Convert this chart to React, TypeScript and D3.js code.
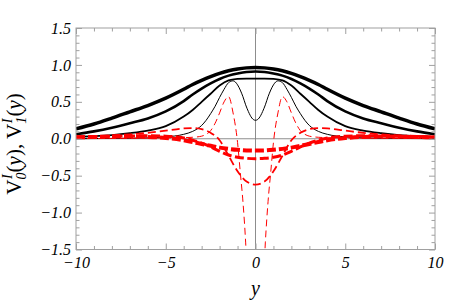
import * as d3 from "d3";
import { useEffect, useRef } from "react";

const width = 463;
const height = 301;
const margin = { top: 28, right: 28, bottom: 51.5, left: 76 };
const innerWidth = width - margin.left - margin.right;
const innerHeight = height - margin.top - margin.bottom;

// y positions for the broad curves
const yGrid = [-10, -9, -8, -7, -6, -5, -4, -3.5, -3, -2.5, -2, -1.5, -1, -0.5, 0, 0.5, 1, 1.5, 2, 2.5, 3, 3.5, 4, 5, 6, 7, 8, 9, 10];
// y positions for the narrow curves
const yFine = [-10, -8, -6, -5, -4, -3.5, -3, -2.75, -2.5, -2.25, -2, -1.75, -1.5, -1.25, -1, -0.85, -0.7, -0.55, -0.4, -0.2, 0, 0.2, 0.4, 0.55, 0.7, 0.85, 1, 1.25, 1.5, 1.75, 2, 2.25, 2.5, 2.75, 3, 3.5, 4, 5, 6, 8, 10];

// V0 (black, solid)
const v0a = [0.135, 0.2, 0.28, 0.365, 0.45, 0.55, 0.67, 0.735, 0.79, 0.84, 0.885, 0.92, 0.945, 0.96, 0.965, 0.96, 0.945, 0.92, 0.885, 0.84, 0.79, 0.735, 0.67, 0.55, 0.45, 0.365, 0.28, 0.2, 0.135];
const v0b = [0.06, 0.1, 0.15, 0.21, 0.275, 0.37, 0.51, 0.6, 0.68, 0.75, 0.81, 0.855, 0.885, 0.905, 0.91, 0.905, 0.885, 0.855, 0.81, 0.75, 0.68, 0.6, 0.51, 0.37, 0.275, 0.21, 0.15, 0.1, 0.06];
const v0c = [0.025, 0.035, 0.05, 0.075, 0.11, 0.17, 0.3, 0.39, 0.5, 0.61, 0.72, 0.79, 0.81, 0.815, 0.815, 0.815, 0.81, 0.79, 0.72, 0.61, 0.5, 0.39, 0.3, 0.17, 0.11, 0.075, 0.05, 0.035, 0.025];
const v0d = [0.001, 0.004, 0.012, 0.025, 0.06, 0.1, 0.18, 0.25, 0.34, 0.44, 0.56, 0.67, 0.76, 0.785, 0.73, 0.66, 0.57, 0.46, 0.37, 0.28, 0.25, 0.28, 0.37, 0.46, 0.57, 0.66, 0.73, 0.785, 0.76, 0.67, 0.56, 0.44, 0.34, 0.25, 0.18, 0.1, 0.06, 0.025, 0.012, 0.004, 0.001];

// V1 (red, dashed)
const v1a = [0.02, 0.024, 0.028, 0.03, 0.025, 0.01, -0.02, -0.045, -0.07, -0.095, -0.12, -0.137, -0.15, -0.158, -0.16, -0.158, -0.15, -0.137, -0.12, -0.095, -0.07, -0.045, -0.02, 0.01, 0.025, 0.03, 0.028, 0.024, 0.02];
const v1b = [0.024, 0.028, 0.033, 0.038, 0.04, 0.035, 0.01, -0.02, -0.06, -0.11, -0.17, -0.22, -0.25, -0.265, -0.27, -0.265, -0.25, -0.22, -0.17, -0.11, -0.06, -0.02, 0.01, 0.035, 0.04, 0.038, 0.033, 0.028, 0.024];
const v1c = [0.028, 0.035, 0.045, 0.06, 0.08, 0.11, 0.14, 0.145, 0.13, 0.08, -0.02, -0.23, -0.44, -0.58, -0.62, -0.58, -0.44, -0.23, -0.02, 0.08, 0.13, 0.145, 0.14, 0.11, 0.08, 0.06, 0.045, 0.035, 0.028];
const v1d = [0.003, 0.005, 0.008, 0.01, 0.015, 0.02, 0.035, 0.06, 0.11, 0.21, 0.35, 0.5, 0.57, 0.35, -0.05, -0.45, -0.85, -1.4, -2.2, -3.2, -3.8, -3.2, -2.2, -1.4, -0.85, -0.45, -0.05, 0.35, 0.57, 0.5, 0.35, 0.21, 0.11, 0.06, 0.035, 0.02, 0.015, 0.01, 0.008, 0.005, 0.003];

const xMajor = [-10, -5, 0, 5, 10];
const yMajor = [-1.5, -1, -0.5, 0, 0.5, 1, 1.5];

type Series = { xs: number[]; vs: number[]; color: string; w: number; dash?: string };

const series: Series[] = [
  { xs: yGrid, vs: v0a, color: "#000", w: 3.5 },
  { xs: yGrid, vs: v0b, color: "#000", w: 2.6 },
  { xs: yGrid, vs: v0c, color: "#000", w: 1.8 },
  { xs: yFine, vs: v0d, color: "#000", w: 1 },
  { xs: yGrid, vs: v1a, color: "#ff0000", w: 4, dash: "9,3" },
  { xs: yGrid, vs: v1b, color: "#ff0000", w: 3, dash: "9,3.5" },
  { xs: yGrid, vs: v1c, color: "#ff0000", w: 1.8, dash: "8,4" },
  { xs: yFine, vs: v1d, color: "#ff0000", w: 1, dash: "7,4" },
];

const serif = "'Liberation Serif', 'Times New Roman', serif";

const App = () => {
  const svgRef = useRef<SVGSVGElement | null>(null);

  useEffect(() => {
    const svg = d3.select(svgRef.current);
    svg.selectAll("*").remove();

    const x = d3.scaleLinear().domain([-10, 10]).range([0, innerWidth]);
    const y = d3.scaleLinear().domain([-1.5, 1.5]).range([innerHeight, 0]);

    const g = svg.append("g").attr("transform", `translate(${margin.left},${margin.top})`);

    g.append("clipPath")
      .attr("id", "plot-clip")
      .append("rect")
      .attr("width", innerWidth)
      .attr("height", innerHeight);

    // zero axes
    g.append("line")
      .attr("x1", 0).attr("x2", innerWidth)
      .attr("y1", y(0)).attr("y2", y(0))
      .attr("stroke", "#808080").attr("stroke-width", 0.9);
    g.append("line")
      .attr("x1", x(0)).attr("x2", x(0))
      .attr("y1", 0).attr("y2", innerHeight)
      .attr("stroke", "#808080").attr("stroke-width", 0.9);

    const line = d3
      .line<[number, number]>()
      .x((d) => x(d[0]))
      .y((d) => y(d[1]))
      .curve(d3.curveMonotoneX);

    const plot = g.append("g").attr("clip-path", "url(#plot-clip)");
    series.forEach((s) => {
      const pts = s.xs.map((xv, i) => [xv, s.vs[i]] as [number, number]);
      plot
        .append("path")
        .attr("d", line(pts))
        .attr("fill", "none")
        .attr("stroke", s.color)
        .attr("stroke-width", s.w)
        .attr("stroke-dasharray", s.dash ?? null);
    });

    // frame
    g.append("rect")
      .attr("width", innerWidth)
      .attr("height", innerHeight)
      .attr("fill", "none")
      .attr("stroke", "#a0a0a0")
      .attr("stroke-width", 1);

    const xMinor = d3.range(-10, 11).filter((v) => v % 5 !== 0);
    const yMinor = d3.range(-15, 16).filter((v) => v % 5 !== 0).map((v) => v / 10);
    const blank = () => "";

    const axes = [
      g.append("g").attr("transform", `translate(0,${innerHeight})`)
        .call(d3.axisBottom(x).tickValues(xMajor).tickSize(-6).tickPadding(7).tickFormat(d3.format("d"))),
      g.append("g").attr("transform", `translate(0,${innerHeight})`)
        .call(d3.axisBottom(x).tickValues(xMinor).tickSize(-3.5).tickFormat(blank)),
      g.append("g").call(d3.axisTop(x).tickValues(xMajor).tickSize(-6).tickFormat(blank)),
      g.append("g").call(d3.axisTop(x).tickValues(xMinor).tickSize(-3.5).tickFormat(blank)),
      g.append("g")
        .call(d3.axisLeft(y).tickValues(yMajor).tickSize(-6).tickPadding(5).tickFormat(d3.format(".1f"))),
      g.append("g").call(d3.axisLeft(y).tickValues(yMinor).tickSize(-3.5).tickFormat(blank)),
      g.append("g").attr("transform", `translate(${innerWidth},0)`)
        .call(d3.axisRight(y).tickValues(yMajor).tickSize(-6).tickFormat(blank)),
      g.append("g").attr("transform", `translate(${innerWidth},0)`)
        .call(d3.axisRight(y).tickValues(yMinor).tickSize(-3.5).tickFormat(blank)),
    ];
    axes.forEach((a) => {
      a.select(".domain").remove();
      a.selectAll(".tick line").attr("stroke", "#a0a0a0");
      a.attr("font-family", serif)
        .attr("font-size", 16)
        .attr("font-style", "italic");
      a.selectAll(".tick text").attr("fill", "#000");
    });

    // axis titles
    svg.append("text")
      .attr("x", margin.left + x(0))
      .attr("y", 295)
      .attr("text-anchor", "middle")
      .attr("font-family", serif)
      .attr("font-size", 20)
      .attr("font-style", "italic")
      .text("y");

    const yl = svg.append("text")
      .attr("transform", "translate(21,144) rotate(-90)")
      .attr("text-anchor", "middle")
      .attr("font-family", serif)
      .attr("font-size", 21);
    const part = (idx: string) => {
      yl.append("tspan").text("V");
      yl.append("tspan").attr("font-size", 14).attr("font-style", "italic").attr("dy", 5).text(idx);
      yl.append("tspan").attr("font-size", 14).attr("font-style", "italic").attr("dx", -6.5).attr("dy", -14).text("I");
      yl.append("tspan").attr("dx", 2).attr("dy", 9).text("(");
      yl.append("tspan").attr("font-style", "italic").text("y");
      yl.append("tspan").text(")");
    };
    part("0");
    yl.append("tspan").text(", ");
    part("1");
  }, []);

  return (
    <svg
      ref={svgRef}
      width={width}
      height={height}
      style={{ position: "absolute", left: 0, top: 0, background: "#fff" }}
    />
  );
};

export default App;
